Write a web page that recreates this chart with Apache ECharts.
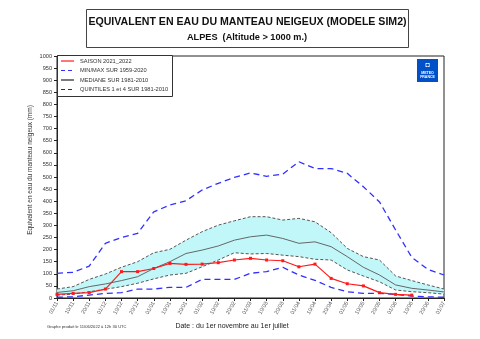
<!DOCTYPE html>
<html><head><meta charset="utf-8">
<script src="https://cdn.jsdelivr.net/npm/echarts@6/dist/echarts.min.js"></script>
<style>html,body{margin:0;padding:0;background:#fff}#c{width:480px;height:339px}</style>
</head><body><div id="c"></div>
<script>
const dates = ['01/11','10/11','20/11','01/12','10/12','20/12','01/01','10/01','20/01','01/02','10/02','20/02','01/03','10/03','20/03','01/04','10/04','20/04','01/05','10/05','20/05','01/06','10/06','20/06','01/07'];
const maxVals = [102,106,132,226,250,267,356,384,402,446,474,498,517,503,512,563,535,535,515,460,397,281,168,118,95];
const minVals = [3,5,12,19,22,37,37,44,44,77,77,77,102,109,127,95,73,44,26,19,19,15,8,5,3];
const q4Vals = [37,47,77,99,127,150,187,201,239,274,301,319,336,336,322,329,315,270,205,171,157,91,72,54,37];
const q1Vals = [12,16,26,36,47,61,79,95,102,129,157,187,182,184,177,171,160,157,116,91,67,33,26,22,16];
const medVals = [23,30,47,58,72,88,122,150,184,198,215,239,253,260,246,226,232,212,171,127,95,54,40,33,25];
const seasonVals = [15,19,22,37,109,109,122,143,139,140,146,157,164,157,154,129,140,81,59,50,22,15,12,null,null];
const yTicks = {min:0, max:1000, interval:50};

const chart = echarts.init(document.getElementById('c'), null, {renderer:'canvas'});
const F = 'Liberation Sans, Arial, sans-serif';
const bandDiff = q4Vals.map((v,i)=>v - q1Vals[i]);
const blue = '#3030ff', gray = '#555', red = '#ff1a1a';

const legendItems = [
  {t:'SAISON 2021_2022', c:red, d:null},
  {t:'MIN/MAX SUR 1959-2020', c:blue, d:[4,3]},
  {t:'MEDIANE SUR 1981-2010', c:'#222', d:null},
  {t:'QUINTILES 1 et 4 SUR 1981-2010', c:'#333', d:[4,3]}
];
const ly = [61, 70.5, 80, 89.5];
const graphics = [
  {type:'rect', shape:{x:86.5,y:9.5,width:322,height:38}, style:{fill:'#fff', stroke:'#444', lineWidth:1}},
  {type:'text', x:247.5, y:22, style:{text:'EQUIVALENT EN EAU DU MANTEAU NEIGEUX (MODELE SIM2)', font:'bold 10.6px '+F, fill:'#111', textAlign:'center', textVerticalAlign:'middle'}},
  {type:'text', x:247, y:37.5, style:{text:'ALPES  (Altitude > 1000 m.)', font:'bold 9.2px '+F, fill:'#111', textAlign:'center', textVerticalAlign:'middle'}},
  {type:'rect', shape:{x:57.5,y:55.5,width:115,height:41}, style:{fill:'#fff', stroke:'#333', lineWidth:1}, z:10},
  {type:'rect', shape:{x:417,y:59,width:21,height:23}, style:{fill:'#0050c8'}, z:10},
  {type:'text', x:427.5, y:65, style:{text:'◘', font:'bold 7px '+F, fill:'#fff', textAlign:'center', textVerticalAlign:'middle'}, z:11},
  {type:'text', x:427.5, y:73, style:{text:'METEO', font:'bold 3.5px '+F, fill:'#fff', textAlign:'center', textVerticalAlign:'middle'}, z:11},
  {type:'text', x:427.5, y:77, style:{text:'FRANCE', font:'bold 3.5px '+F, fill:'#fff', textAlign:'center', textVerticalAlign:'middle'}, z:11},
  {type:'text', x:30, y:170, rotation:Math.PI/2, style:{text:'Equivalent en eau du manteau neigeux (mm)', font:'6.5px '+F, fill:'#333', textAlign:'center', textVerticalAlign:'middle'}},
  {type:'text', x:232, y:326, style:{text:'Date : du 1er novembre au 1er juillet', font:'7px '+F, fill:'#222', textAlign:'center', textVerticalAlign:'middle'}},
  {type:'text', x:47, y:327, style:{text:'Graphe produit le 11/06/2022 à 12h 30 UTC', font:'4.1px '+F, fill:'#333', textAlign:'left', textVerticalAlign:'middle'}}
];
legendItems.forEach((it,i)=>{
  graphics.push({type:'line', shape:{x1:61,y1:ly[i],x2:74,y2:ly[i]}, style:{stroke:it.c, lineWidth:1.2, lineDash:it.d}, z:11});
  graphics.push({type:'text', x:80, y:ly[i], style:{text:it.t, font:'5.7px '+F, fill:'#333', textVerticalAlign:'middle'}, z:11});
});

chart.setOption({
  animation:false,
  backgroundColor:'#fff',
  grid:{left:57, right:36, top:56, bottom:41, show:true, borderColor:'#222', borderWidth:1},
  xAxis:{type:'category', data:dates, boundaryGap:false,
    axisLine:{lineStyle:{color:'#222'}}, axisTick:{show:true, length:3, lineStyle:{color:'#222'}},
    axisLabel:{rotate:60, fontSize:5.5, fontFamily:F, color:'#555', margin:4, interval:0},
    splitLine:{show:false}},
  yAxis:{type:'value', min:yTicks.min, max:yTicks.max, interval:yTicks.interval,
    axisLine:{show:true, lineStyle:{color:'#222'}}, axisTick:{show:true, length:3, lineStyle:{color:'#222'}},
    axisLabel:{fontSize:5.6, fontFamily:F, color:'#333', margin:5, formatter:v=>String(v)},
    splitLine:{show:false}},
  series:[
    {type:'line', data:q1Vals, stack:'band', symbol:'none', lineStyle:{opacity:0}, silent:true},
    {type:'line', data:bandDiff, stack:'band', symbol:'none', lineStyle:{opacity:0}, areaStyle:{color:'#c2f7fa', opacity:1}, silent:true},
    {type:'line', data:q1Vals, symbol:'none', lineStyle:{color:gray, width:1, type:[3,2]}},
    {type:'line', data:q4Vals, symbol:'none', lineStyle:{color:gray, width:1, type:[3,2]}},
    {type:'line', data:medVals, symbol:'none', lineStyle:{color:'#666', width:1}},
    {type:'line', data:maxVals, symbol:'none', lineStyle:{color:blue, width:1.3, type:[6,4]}},
    {type:'line', data:minVals, symbol:'none', lineStyle:{color:blue, width:1.3, type:[6,4]}},
    {type:'line', data:seasonVals, symbol:'rect', symbolSize:3, itemStyle:{color:red}, lineStyle:{color:red, width:1.2}}
  ],
  graphic:graphics
});
</script></body></html>
